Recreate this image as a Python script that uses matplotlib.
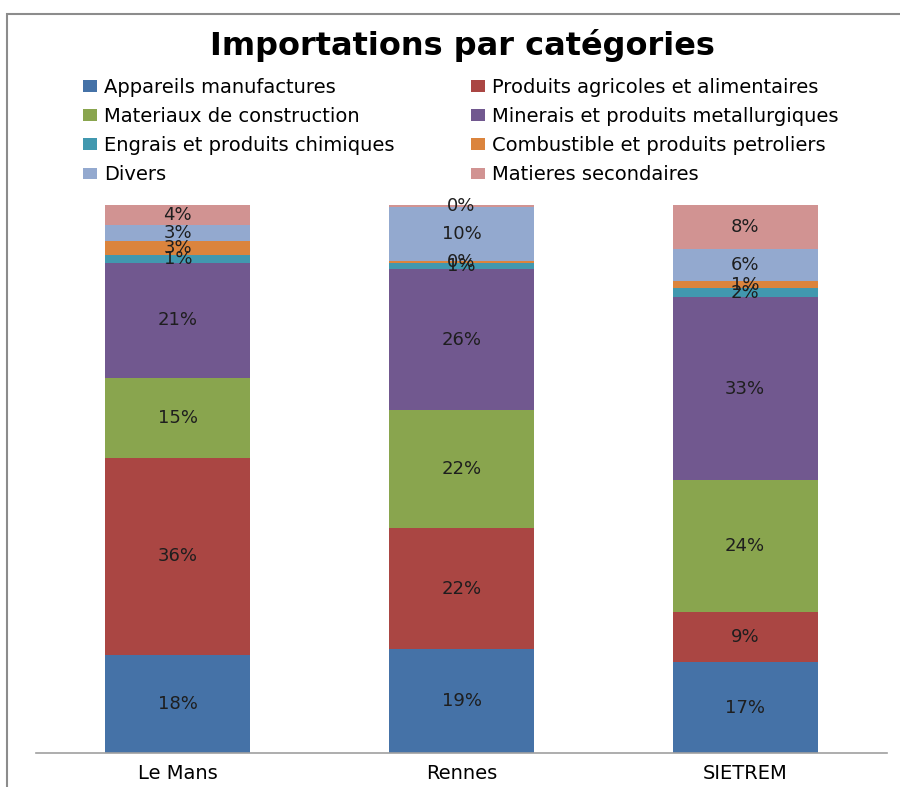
import matplotlib
matplotlib.use("Agg")
import matplotlib.pyplot as plt
import matplotlib.patches as mpatches
import numpy as np

categories = ["Le Mans", "Rennes", "SIETREM"]
series_names = [
    "Appareils manufactures",
    "Produits agricoles et alimentaires",
    "Materiaux de construction",
    "Minerais et produits metallurgiques",
    "Engrais et produits chimiques",
    "Combustible et produits petroliers",
    "Divers",
    "Matieres secondaires",
]
appareils = [17.9, 19.0, 16.6]
agricoles = [36.0, 22.0, 9.1]
materiaux = [14.6, 21.6, 24.1]
minerais = [21.0, 25.7, 33.4]
engrais = [1.3, 1.2, 1.6]
combustible = [2.6, 0.3, 1.3]
divers = [2.9, 9.8, 5.8]
secondaires = [3.7, 0.4, 8.1]

colors = ["#4572A7", "#AA4643", "#89A54E", "#71588F",
          "#4198AF", "#DB843D", "#93A9CF", "#D19392"]

series = [appareils, agricoles, materiaux, minerais, engrais,
          combustible, divers, secondaires]

fig = plt.figure(figsize=(9, 7.87), dpi=100)
ax = fig.add_axes([36/900, 1-753/787, (887-36)/900, (753-205)/787])

x = np.arange(len(categories))
bottom = np.zeros(len(categories))
handles = []
for name, vals, col in zip(series_names, series, colors):
    vals = np.array(vals, dtype=float)
    bars = ax.bar(x, vals, 0.51, bottom=bottom, color=col, label=name,
                  edgecolor="none")
    handles.append(bars)
    for xi, b, v in zip(x, bottom, vals):
        ax.text(xi, b + v/2, f"{v:.0f}%", ha="center", va="center",
                fontsize=13, family="DejaVu Sans", color="#1e1e1e")
    bottom += vals

ax.set_xlim(-0.5, 2.5)
ax.set_ylim(0, 100)
ax.set_yticks([])
for s in ["left", "right", "top"]:
    ax.spines[s].set_visible(False)
ax.spines["bottom"].set_color("#a0a0a0")
ax.spines["bottom"].set_linewidth(1.2)
ax.set_xticks(x)
ax.set_xticklabels(categories, family="DejaVu Sans", fontsize=14)
ax.tick_params(axis="x", length=0, pad=8)

fig.text(462/900, 1-45/787, "Importations par catégories", ha="center",
         va="center", fontsize=23, fontweight="bold", family="DejaVu Sans")

leg_kw = dict(loc="upper left", frameon=False,
              prop={"family": "DejaVu Sans", "size": 14},
              handlelength=0.7, handleheight=0.55, handletextpad=0.4,
              labelspacing=0.52, borderpad=0, borderaxespad=0)
left_idx = [0, 2, 4, 6]
right_idx = [1, 3, 5, 7]
fig.legend(handles=[handles[i] for i in left_idx],
           labels=[series_names[i] for i in left_idx],
           bbox_to_anchor=(83/900, 1-78/787), **leg_kw)
fig.legend(handles=[handles[i] for i in right_idx],
           labels=[series_names[i] for i in right_idx],
           bbox_to_anchor=(471/900, 1-78/787), **leg_kw)

rect = mpatches.Rectangle((7/900, -0.1), 1.2, 1-14/787+0.1,
                          transform=fig.transFigure, fill=False,
                          edgecolor="#8c8c8c", lw=1.5, clip_on=False)
fig.patches.append(rect)

fig.savefig("out.png", dpi=100)
